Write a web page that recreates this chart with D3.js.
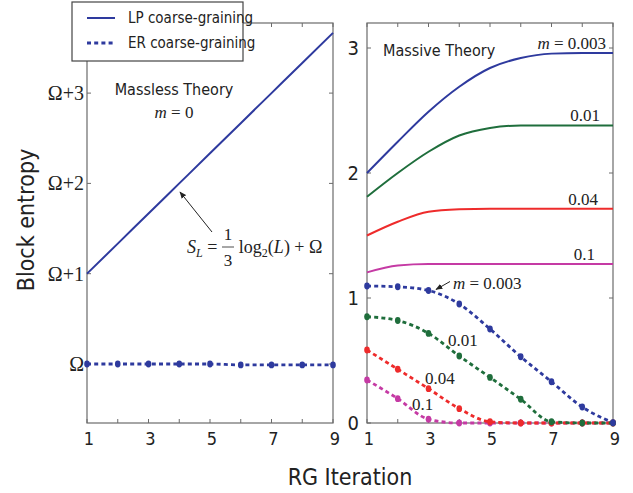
<!DOCTYPE html>
<html lang="en">
<head>
<meta charset="UTF-8">
<title>Block entropy</title>
<script src="https://cdnjs.cloudflare.com/ajax/libs/d3/7.8.5/d3.min.js"></script>
<style>
  body { margin: 0; background: #fff; }
  .sans { font-family: "Liberation Sans Narrow", "DejaVu Sans Condensed", "Open Sans", sans-serif; }
  .serif { font-family: "Liberation Serif", "DejaVu Serif", serif; }
</style>
</head>
<body>
<div id="chart"></div>
<script>
// ---- data ----
var iterations = [1, 2, 3, 4, 5, 6, 7, 8, 9];
var xTicks = [1, 3, 5, 7, 9];

// left panel (massless), offset from Omega
var lpMassless = [1, 1.333, 1.667, 2, 2.333, 2.667, 3, 3.333, 3.667];
var erMassless = [0, 0, 0, 0, 0, -0.01, -0.01, -0.01, -0.01];
var leftTicks = [0, 1, 2, 3];
var leftTickLabels = ["\u03A9", "\u03A9+1", "\u03A9+2", "\u03A9+3"];

// right panel (massive)
var masses = ["0.003", "0.01", "0.04", "0.1"];
var lp003 = [2.0, 2.25, 2.49, 2.69, 2.84, 2.92, 2.955, 2.96, 2.96];
var lp01 = [1.81, 2.0, 2.17, 2.30, 2.36, 2.38, 2.38, 2.38, 2.38];
var lp04 = [1.50, 1.61, 1.69, 1.71, 1.715, 1.715, 1.715, 1.715, 1.715];
var lp1 = [1.205, 1.26, 1.272, 1.272, 1.272, 1.272, 1.272, 1.272, 1.272];
var er003 = [1.096, 1.09, 1.06, 0.952, 0.752, 0.53, 0.33, 0.128, 0.003];
var er01 = [0.85, 0.82, 0.717, 0.536, 0.365, 0.19, 0.01, 0.0, 0.0];
var er04 = [0.584, 0.43, 0.275, 0.115, 0.01, 0, 0, 0, 0];
var er1 = [0.344, 0.195, 0.03, 0, 0, 0, 0, 0, 0];
var rightTicks = [0, 1, 2, 3];

var colors = ["#2e3a9e", "#1f6e3c", "#ee2b2b", "#c53aa4"];

var W = 633, H = 493;
var svg = d3.select("#chart").append("svg")
    .attr("width", W)
    .attr("height", H);

var axisColor = "#6b6b6b";

// scales
var xL = d3.scaleLinear().domain([1, 9]).range([87, 333]);
var yL = d3.scaleLinear().domain([0, 1]).range([364, 273.7]);
var xR = d3.scaleLinear().domain([1, 9]).range([367, 613]);
var yR = d3.scaleLinear().domain([0, 3]).range([423, 48]);

var plotTop = 23, plotBottom = 423;

function frame(x, y, yTicks, yLabels, labelClass, labelSize, labelDx) {
    var g = svg.append("g");
    var x0 = x.range()[0], x1 = x.range()[1];
    g.append("rect")
        .attr("x", x0).attr("y", plotTop)
        .attr("width", x1 - x0).attr("height", plotBottom - plotTop)
        .attr("fill", "none").attr("stroke", axisColor).attr("stroke-width", 1.2);
    // x ticks, top and bottom, inward
    iterations.forEach(function (d) {
        g.append("line").attr("x1", x(d)).attr("x2", x(d))
            .attr("y1", plotBottom).attr("y2", plotBottom - 4)
            .attr("stroke", axisColor);
        g.append("line").attr("x1", x(d)).attr("x2", x(d))
            .attr("y1", plotTop).attr("y2", plotTop + 4)
            .attr("stroke", axisColor);
    });
    yTicks.forEach(function (d) {
        g.append("line").attr("x1", x0).attr("x2", x0 + 4)
            .attr("y1", y(d)).attr("y2", y(d)).attr("stroke", axisColor);
        g.append("line").attr("x1", x1).attr("x2", x1 - 4)
            .attr("y1", y(d)).attr("y2", y(d)).attr("stroke", axisColor);
    });
    g.selectAll("text.xt").data(xTicks).enter().append("text")
        .attr("class", "sans")
        .attr("x", function (d) { return x(d) + 2; })
        .attr("y", 445)
        .attr("text-anchor", "middle")
        .attr("font-size", 18)
        .attr("fill", "#222")
        .text(function (d) { return d; });
    g.selectAll("text.yt").data(yTicks).enter().append("text")
        .attr("class", labelClass)
        .attr("x", x0 - labelDx)
        .attr("y", function (d) { return y(d); })
        .attr("dy", "0.35em")
        .attr("text-anchor", "end")
        .attr("font-size", labelSize)
        .attr("fill", "#222")
        .text(function (d, i) { return yLabels[i]; });
}

frame(xL, yL, leftTicks, leftTickLabels, "serif", 20, 3);
frame(xR, yR, rightTicks, rightTicks.map(String), "sans", 20, 8);

var line = function (x, y) {
    return d3.line()
        .x(function (d, i) { return x(iterations[i]); })
        .y(function (d) { return y(d); })
        .curve(d3.curveMonotoneX);
};

function solid(data, x, y, color) {
    svg.append("path")
        .attr("d", line(x, y)(data))
        .attr("fill", "none")
        .attr("stroke", color)
        .attr("stroke-width", 2);
}

function dotted(data, x, y, color) {
    svg.append("path")
        .attr("d", line(x, y)(data))
        .attr("fill", "none")
        .attr("stroke", color)
        .attr("stroke-width", 2.8)
        .attr("stroke-dasharray", "4,3.2");
    svg.append("g").selectAll("ellipse").data(data).enter().append("ellipse")
        .attr("cx", function (d, i) { return x(iterations[i]); })
        .attr("cy", function (d) { return y(d); })
        .attr("rx", 2.8).attr("ry", 3.4)
        .attr("fill", color);
}

// left panel curves
solid(lpMassless, xL, yL, colors[0]);
dotted(erMassless, xL, yL, colors[0]);

// right panel curves
var lpAll = [lp003, lp01, lp04, lp1];
var erAll = [er003, er01, er04, er1];
lpAll.forEach(function (d, i) { solid(d, xR, yR, colors[i]); });
erAll.slice().reverse().forEach(function (d, i) { dotted(d, xR, yR, colors[3 - i]); });

// legend
var lg = svg.append("g");
lg.append("rect").attr("x", 72).attr("y", 2).attr("width", 171).attr("height", 59)
    .attr("fill", "#fff").attr("stroke", "#444").attr("stroke-width", 1.2);
lg.append("line").attr("x1", 87).attr("x2", 115).attr("y1", 18).attr("y2", 18)
    .attr("stroke", colors[0]).attr("stroke-width", 2);
lg.append("line").attr("x1", 87).attr("x2", 115).attr("y1", 43).attr("y2", 43)
    .attr("stroke", colors[0]).attr("stroke-width", 2.8).attr("stroke-dasharray", "4,3.2");
lg.append("text").attr("class", "sans").attr("x", 128).attr("y", 23)
    .attr("font-size", 15).attr("fill", "#222").text("LP coarse-graining");
lg.append("text").attr("class", "sans").attr("x", 128).attr("y", 48)
    .attr("font-size", 15).attr("fill", "#222").text("ER coarse-graining");

// annotations - left
function txt(x, y, s, cls, size, anchor) {
    return svg.append("text").attr("class", cls)
        .attr("x", x).attr("y", y)
        .attr("font-size", size)
        .attr("fill", "#222")
        .attr("text-anchor", anchor || "start")
        .text(s);
}
txt(174, 95, "Massless Theory", "sans", 16, "middle");
var m0 = txt(174, 118, "", "serif", 17, "middle");
m0.append("tspan").attr("font-style", "italic").text("m");
m0.append("tspan").text(" = 0");

// formula
var f = svg.append("text").attr("class", "serif").attr("font-size", 18).attr("fill", "#222")
    .attr("x", 187).attr("y", 253);
f.append("tspan").attr("font-style", "italic").text("S");
f.append("tspan").attr("font-style", "italic").attr("font-size", 12).attr("dy", 4).text("L");
f.append("tspan").attr("dy", -4).text(" = ");
f.append("tspan").attr("dx", 17).text("log");
f.append("tspan").attr("font-size", 12).attr("dy", 4).text("2");
f.append("tspan").attr("dy", -4).text("(");
f.append("tspan").attr("font-style", "italic").text("L");
f.append("tspan").text(") + \u03A9");
txt(228, 240, "1", "serif", 17, "middle");
txt(228, 266, "3", "serif", 17, "middle");
svg.append("line").attr("x1", 222).attr("x2", 234).attr("y1", 247).attr("y2", 247)
    .attr("stroke", "#222").attr("stroke-width", 0.8);

// arrows
var defs = svg.append("defs");
defs.append("marker").attr("id", "ah").attr("viewBox", "0 0 10 10")
    .attr("refX", 9).attr("refY", 5).attr("markerWidth", 7).attr("markerHeight", 7)
    .attr("orient", "auto")
    .append("path").attr("d", "M0,1 L10,5 L0,9 Z").attr("fill", "#222");
svg.append("line").attr("x1", 212).attr("y1", 232).attr("x2", 180).attr("y2", 192)
    .attr("stroke", "#222").attr("stroke-width", 1).attr("marker-end", "url(#ah)");
svg.append("line").attr("x1", 450).attr("y1", 281.5).attr("x2", 436).attr("y2", 289.5)
    .attr("stroke", "#222").attr("stroke-width", 1).attr("marker-end", "url(#ah)");

// annotations - right
txt(383, 56, "Massive Theory", "sans", 16, "start");
var m1 = txt(606, 49, "", "serif", 17, "end");
m1.append("tspan").attr("font-style", "italic").text("m");
m1.append("tspan").text(" = 0.003");
txt(600, 121, "0.01", "serif", 17, "end");
txt(598, 205, "0.04", "serif", 17, "end");
txt(595, 260, "0.1", "serif", 17, "end");
var m2 = txt(453, 289, "", "serif", 17, "start");
m2.append("tspan").attr("font-style", "italic").text("m");
m2.append("tspan").text(" = 0.003");
txt(448, 346, "0.01", "serif", 17, "start");
txt(425, 384, "0.04", "serif", 17, "start");
txt(412, 410, "0.1", "serif", 17, "start");

// axis titles
svg.append("text").attr("class", "sans")
    .attr("transform", "translate(34,220) rotate(-90)")
    .attr("text-anchor", "middle").attr("font-size", 23).attr("fill", "#222")
    .text("Block entropy");
txt(350, 485, "RG Iteration", "sans", 23, "middle");
</script>
</body>
</html>
